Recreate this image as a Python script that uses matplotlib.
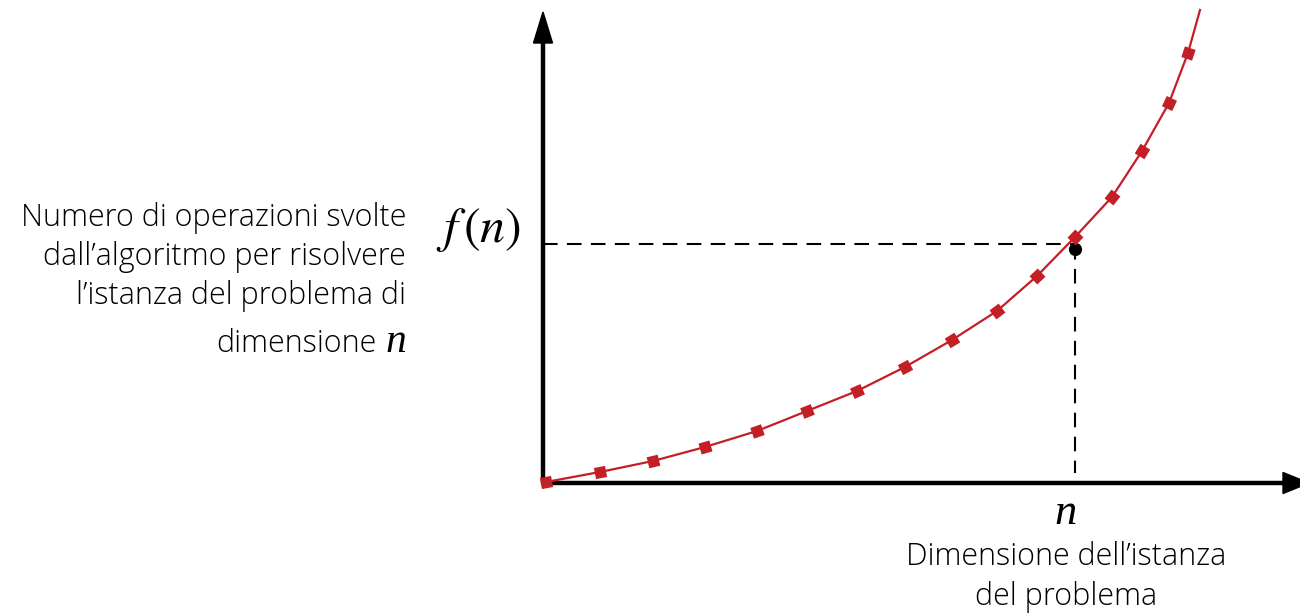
import math

import matplotlib.pyplot as plt
from matplotlib.patches import FancyArrow

# operations count sampled along the curve (origin at axes corner)
n_vals = [3, 57, 110, 162, 214, 264, 314, 362, 409, 454, 494, 532, 569, 599, 626, 645]
f_vals = [1, 11, 22, 36, 52, 72, 92, 116, 143, 172, 207, 246, 286, 332, 380, 430]
curve_end = (657, 473)

# highlighted instance of size n
n_point = 532
f_point = 238

red = '#c41e26'
label_font = 'Open Sans'
math_font = 'Liberation Serif'

fig = plt.figure(figsize=(13, 6.13), dpi=100)
ax = fig.add_axes([0, 0, 1, 1])
ax.set_xlim(-543, 757)
ax.set_ylim(-130, 483)
ax.axis('off')

# axes with arrow heads
ax.plot([0, 0], [0, 445], color='black', lw=3.2, solid_capstyle='butt', zorder=2)
ax.add_patch(FancyArrow(0, 440, 0, 31, width=0, head_width=19, head_length=31,
                        length_includes_head=True, color='black', zorder=2))
ax.plot([-2, 745], [0, 0], color='black', lw=3.2, solid_capstyle='butt', zorder=2)
ax.add_patch(FancyArrow(740, 0, 26, 0, width=0, head_width=21, head_length=26,
                        length_includes_head=True, color='black', zorder=2))

# guide lines to the highlighted point
ax.plot([0, n_point], [f_point + 1, f_point + 1], color='black', lw=1.5,
        dashes=(7, 4.5), zorder=1)
ax.plot([n_point, n_point], [f_point, 10], color='black', lw=1.5,
        dashes=(7, 4.5), zorder=1)

# growth curve
xs = n_vals + [curve_end[0]]
ys = f_vals + [curve_end[1]]
ax.plot(xs, ys, color=red, lw=1.6, zorder=3)

# square markers turned along the curve direction
for i, (x, y) in enumerate(zip(n_vals, f_vals)):
    j0 = max(i - 1, 0)
    j1 = i + 1
    angle = math.degrees(math.atan2(ys[j1] - ys[j0], xs[j1] - xs[j0]))
    ax.plot([x], [y], linestyle='none', marker=(4, 0, 45 + angle),
            markersize=11.5, color=red, markeredgewidth=0, zorder=4)

ax.plot([n_point], [f_point - 4], marker='o', markersize=8.5, color='black',
        zorder=3)

# labels
ax.text(-64, 253, r'$f\,(n)$', fontsize=36, ha='center', va='center',
        math_fontfamily='stix')
ax.text(n_point - 9, -30, 'n', fontsize=32, ha='center', va='center',
        family=math_font, style='italic')
ax.text(n_point - 9, -94, 'Dimensione dell\u2019istanza\ndel problema',
        fontsize=22, ha='center', va='center', family=label_font,
        fontweight='light', linespacing=1.3)
ax.text(-137, 226, 'Numero di operazioni svolte\n'
        'dall\u2019algoritmo per risolvere\n'
        'l\u2019istanza del problema di',
        fontsize=22, ha='right', va='center', family=label_font,
        fontweight='light', linespacing=1.3)
ax.text(-167, 131, 'dimensione', fontsize=22, ha='right', va='baseline',
        family=label_font, fontweight='light')
ax.text(-137, 131, 'n', fontsize=30, ha='right', va='baseline',
        family=math_font, style='italic')

fig.savefig('out.png', dpi=100, facecolor='white')
